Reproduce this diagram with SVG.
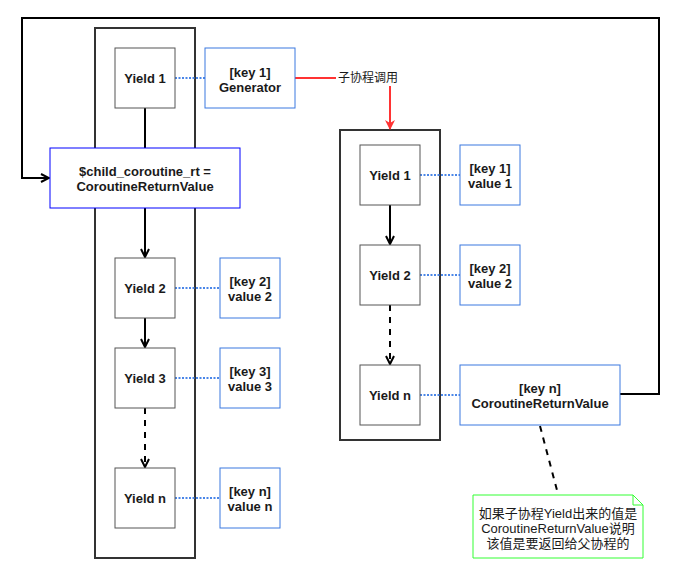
<svg xmlns="http://www.w3.org/2000/svg" width="684" height="578" viewBox="0 0 684 578">
<style>
text{font-family:"Liberation Sans","Noto Sans CJK SC",Arial,sans-serif;font-size:13px;fill:#1a1a1a;text-anchor:middle;dominant-baseline:central}
.b{font-weight:bold}
.cj{font-size:12px}
.cont{fill:none;stroke:#333;stroke-width:2}
.y{fill:#fff;stroke:#555;stroke-width:1}
.k{fill:#fff;stroke:#3a78e0;stroke-width:1}
.dot{stroke:#4a86e8;stroke-width:2;stroke-dasharray:2 1.5;fill:none}
.ln{stroke:#000;stroke-width:2;fill:none}
.dash{stroke:#000;stroke-width:2;fill:none;stroke-dasharray:6 6}
</style>
<defs>
<marker id="open" viewBox="0 0 10 10" refX="9" refY="5" markerWidth="10" markerHeight="10" markerUnits="userSpaceOnUse" orient="auto">
<polyline points="1,1 9,5 1,9" fill="none" stroke="#000" stroke-width="2"/>
</marker>
<marker id="red" viewBox="0 0 10 10" refX="9" refY="5" markerWidth="10" markerHeight="10" markerUnits="userSpaceOnUse" orient="auto">
<polygon points="0,0 10,5 0,10 3,5" fill="#ff3333"/>
</marker>
</defs>
<g id="containers">
<rect id="parent" class="cont" x="95" y="28" width="100" height="530"/>
<rect id="child" class="cont" x="340" y="130" width="100" height="310"/>
</g>
<g id="connectors">
<line class="ln" x1="145" y1="108" x2="145" y2="148"/>
<line class="ln" x1="145" y1="208" x2="145" y2="257" marker-end="url(#open)"/>
<line class="ln" x1="145" y1="318" x2="145" y2="347" marker-end="url(#open)"/>
<line class="dash" x1="145" y1="408" x2="145" y2="467" marker-end="url(#open)"/>
<line class="ln" x1="390" y1="205" x2="390" y2="244" marker-end="url(#open)"/>
<line class="dash" x1="390" y1="305" x2="390" y2="364" marker-end="url(#open)"/>
<line class="dot" x1="175" y1="78" x2="205" y2="78"/>
<line class="dot" x1="175" y1="288" x2="220" y2="288"/>
<line class="dot" x1="175" y1="378" x2="220" y2="378"/>
<line class="dot" x1="175" y1="498" x2="220" y2="498"/>
<line class="dot" x1="420" y1="175" x2="460" y2="175"/>
<line class="dot" x1="420" y1="275" x2="460" y2="275"/>
<line class="dot" x1="420" y1="395" x2="460" y2="395"/>
<line x1="295" y1="78" x2="336" y2="78" stroke="#ff3333" stroke-width="2"/>
<line x1="390" y1="86" x2="390" y2="129" stroke="#ff3333" stroke-width="2" marker-end="url(#red)"/>
<polyline class="ln" points="620,394 659,394 659,18 22,18 22,178 49,178" marker-end="url(#open)"/>
<line class="dash" x1="540" y1="426" x2="558" y2="494"/>
</g>
<g id="call-label"><text class="cj" x="368" y="78">子协程调用</text></g>
<g id="yield1"><rect class="y" x="115" y="48" width="60" height="60"/><text class="b" x="145" y="78">Yield 1</text></g>
<g id="gen"><rect class="k" x="205" y="48" width="90" height="60"/><text class="b" x="250" y="72">[key 1]</text><text class="b" x="250" y="87">Generator</text></g>
<g id="childrt"><rect x="50" y="148" width="190" height="60" fill="#fff" stroke="#0000ff" stroke-width="1"/><text class="b" x="145" y="171">$child_coroutine_rt =</text><text class="b" x="145" y="186">CoroutineReturnValue</text></g>
<g id="yield2"><rect class="y" x="115" y="258" width="60" height="60"/><text class="b" x="145" y="288">Yield 2</text></g>
<g id="key2"><rect class="k" x="220" y="258" width="60" height="60"/><text class="b" x="250" y="281">[key 2]</text><text class="b" x="250" y="296">value 2</text></g>
<g id="yield3"><rect class="y" x="115" y="348" width="60" height="60"/><text class="b" x="145" y="378">Yield 3</text></g>
<g id="key3"><rect class="k" x="220" y="348" width="60" height="60"/><text class="b" x="250" y="371">[key 3]</text><text class="b" x="250" y="386">value 3</text></g>
<g id="yieldn"><rect class="y" x="115" y="468" width="60" height="60"/><text class="b" x="145" y="498">Yield n</text></g>
<g id="keyn"><rect class="k" x="220" y="468" width="60" height="60"/><text class="b" x="250" y="491">[key n]</text><text class="b" x="250" y="506">value n</text></g>
<g id="cyield1"><rect class="y" x="360" y="145" width="60" height="60"/><text class="b" x="390" y="175">Yield 1</text></g>
<g id="ckey1"><rect class="k" x="460" y="145" width="60" height="60"/><text class="b" x="490" y="168">[key 1]</text><text class="b" x="490" y="183">value 1</text></g>
<g id="cyield2"><rect class="y" x="360" y="245" width="60" height="60"/><text class="b" x="390" y="275">Yield 2</text></g>
<g id="ckey2"><rect class="k" x="460" y="245" width="60" height="60"/><text class="b" x="490" y="268">[key 2]</text><text class="b" x="490" y="283">value 2</text></g>
<g id="cyieldn"><rect class="y" x="360" y="365" width="60" height="60"/><text class="b" x="390" y="395">Yield n</text></g>
<g id="ckeyn"><rect class="k" x="460" y="365" width="160" height="60"/><text class="b" x="540" y="388">[key n]</text><text class="b" x="540" y="403">CoroutineReturnValue</text></g>
<g id="note"><path d="M473,495 H633 L643,505 V558 H473 Z" fill="#fff" stroke="#33ff33" stroke-width="1"/><path d="M633,495 V505 H643" fill="none" stroke="#33ff33" stroke-width="1"/>
<text x="558" y="513">如果子协程Yield出来的值是</text><text x="558" y="528">CoroutineReturnValue说明</text><text x="558" y="543">该值是要返回给父协程的</text></g>
</svg>
